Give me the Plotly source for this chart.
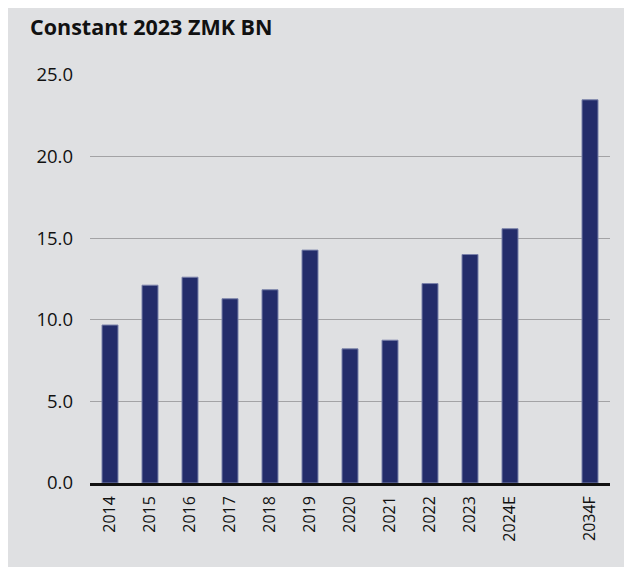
import plotly.graph_objects as go

categories = ["2014", "2015", "2016", "2017", "2018", "2019", "2020", "2021",
              "2022", "2023", "2024E", "2034F"]
values = [9.68, 12.12, 12.61, 11.29, 11.84, 14.27, 8.22, 8.75, 12.22, 14.0, 15.58, 23.48]
axis_order = ["2014", "2015", "2016", "2017", "2018", "2019", "2020", "2021",
              "2022", "2023", "2024E", " ", "2034F"]
y_ticks = [0, 5, 10, 15, 20, 25]
y_ticklabels = ["0.0", "5.0", "10.0", "15.0", "20.0", "25.0"]
title_text = "Constant 2023 ZMK BN"

BG = "#dfe0e2"
BAR = "#232c6a"
FONT = "Open Sans"
TXT = "#111111"

fig = go.Figure()
fig.add_trace(go.Bar(
    x=categories, y=values,
    marker=dict(color=BAR, line=dict(color="#7a82aa", width=1)),
    hoverinfo="x+y",
))

fig.update_layout(
    width=632, height=567,
    paper_bgcolor=BG, plot_bgcolor=BG,
    margin=dict(l=82, r=30, t=67, b=92),
    bargap=0.6, showlegend=False,
    font=dict(family=FONT, color=TXT, size=15),
    title=dict(text="<b>" + title_text + "</b>", x=22/632, xanchor="left",
               y=1 - 19/567, yanchor="middle",
               font=dict(family=FONT, size=21.5, color=TXT)),
)
fig.update_xaxes(
    type="category", categoryorder="array", categoryarray=axis_order,
    range=[-0.5, len(axis_order) - 0.5],
    tickangle=-90, tickfont=dict(family=FONT, size=16, color=TXT),
    showline=True, linecolor="#111111", linewidth=2.5,
    showgrid=False, ticks="", ticklabelstandoff=4, fixedrange=True,
)
fig.update_yaxes(
    range=[0, 25], tickvals=y_ticks, ticktext=y_ticklabels,
    tickfont=dict(family=FONT, size=18.5, color=TXT),
    showgrid=True, gridcolor="#a3a3a5", gridwidth=1.2,
    zeroline=False, ticks="", ticklabelstandoff=16, fixedrange=True,
)

fig.write_html("out.html")
